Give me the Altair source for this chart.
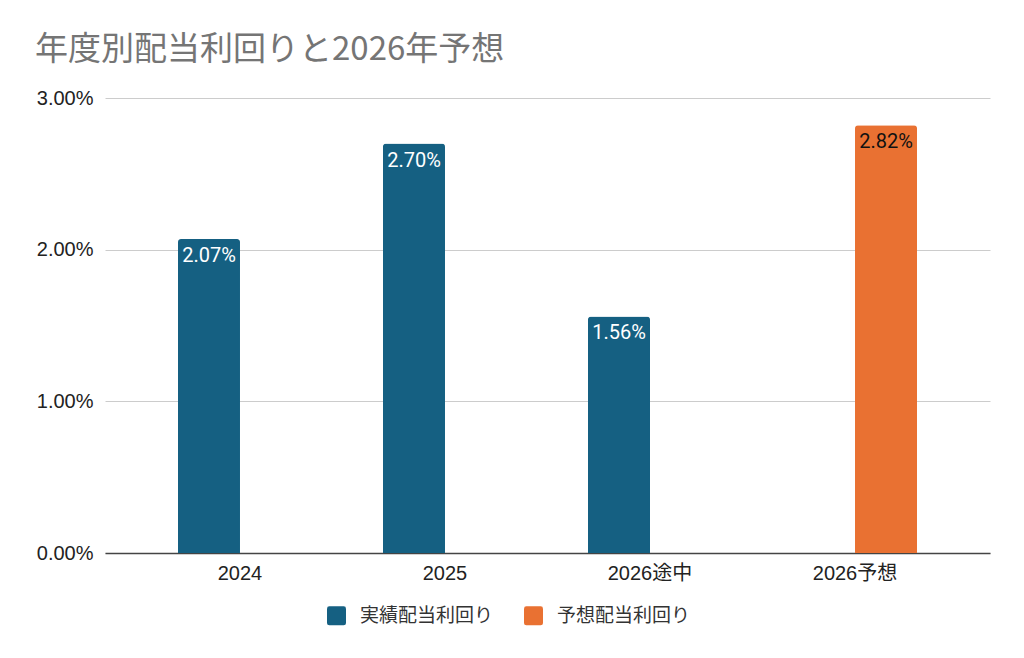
import altair as alt
import pandas as pd

categories = ["2024", "2025", "2026途中", "2026予想"]
series = ["実績配当利回り", "実績配当利回り", "実績配当利回り", "予想配当利回り"]
values = [0.0207, 0.0270, 0.0156, 0.0282]
series_order = ["実績配当利回り", "予想配当利回り"]
colors = ["#156082", "#E97132"]
y_ticks = [0, 0.01, 0.02, 0.03]

df = pd.DataFrame({"category": categories, "series": series, "value": values})

FONT = "Liberation Sans, Noto Sans CJK JP, sans-serif"
CJK = "Noto Sans CJK JP, sans-serif"

x_enc = alt.X(
    "category:N",
    sort=categories,
    scale=alt.Scale(paddingInner=0.395, paddingOuter=0.356),
    axis=alt.Axis(
        title=None,
        labelAngle=0,
        labelFont=FONT,
        labelFontSize=20,
        labelColor="#222222",
        labelPadding=10,
        ticks=False,
        domainColor="#444444",
        domainWidth=1.5,
        grid=False,
    ),
)
xoff_enc = alt.XOffset("series:N", scale=alt.Scale(domain=series_order, paddingInner=0, paddingOuter=0))
y_enc = alt.Y(
    "value:Q",
    scale=alt.Scale(domain=[0, 0.03], nice=False),
    axis=alt.Axis(
        title=None,
        values=y_ticks,
        format=".2%",
        labelFont=FONT,
        labelFontSize=20,
        labelColor="#222222",
        labelPadding=12,
        ticks=False,
        domain=False,
        gridColor="#cccccc",
        gridWidth=1,
    ),
)

rounded = "M -0.75 -1 L 0.75 -1 Q 1 -1 1 -0.75 L 1 0.75 Q 1 1 0.75 1 L -0.75 1 Q -1 1 -1 0.75 L -1 -0.75 Q -1 -1 -0.75 -1 Z"

bars = alt.Chart(df).mark_bar(cornerRadiusTopLeft=3, cornerRadiusTopRight=3).encode(
    x=x_enc,
    xOffset=xoff_enc,
    y=y_enc,
    color=alt.Color(
        "series:N",
        scale=alt.Scale(domain=series_order, range=colors),
        legend=alt.Legend(
            title=None,
            orient="none",
            legendX=222,
            legendY=508,
            direction="horizontal",
            symbolType=rounded,
            symbolSize=361,
            symbolStrokeWidth=0,
            labelFont=CJK,
            labelFontSize=19,
            labelColor="#333333",
            labelOffset=14,
            columnPadding=30,
            labelLimit=400,
            padding=0,
        ),
    ),
)

labels = alt.Chart(df).mark_text(baseline="top", dy=7, font="Roboto", fontSize=20).encode(
    x=alt.X("category:N", sort=categories),
    xOffset=alt.XOffset("series:N", scale=alt.Scale(domain=series_order)),
    y=alt.Y("value:Q"),
    text=alt.Text("value:Q", format=".2%"),
    color=alt.condition(alt.datum.series == "予想配当利回り", alt.value("#111111"), alt.value("#ffffff")),
)

chart = (
    alt.layer(bars, labels)
    .properties(
        width=885,
        height=455,
        padding={"left": 97, "top": 90, "right": 26, "bottom": 97},
        autosize=alt.AutoSizeParams(type="none"),
        title=alt.Title(
            "年度別配当利回りと2026年予想",
            anchor="start",
            frame="group",
            dx=-70,
            dy=34,
            offset=22,
            baseline="bottom",
            font=CJK,
            fontSize=33,
            fontWeight="normal",
            color="#757575",
        ),
    )
    .configure_view(stroke=None)
)

chart.save("out.html", embed_options={"renderer": "svg", "actions": False})
